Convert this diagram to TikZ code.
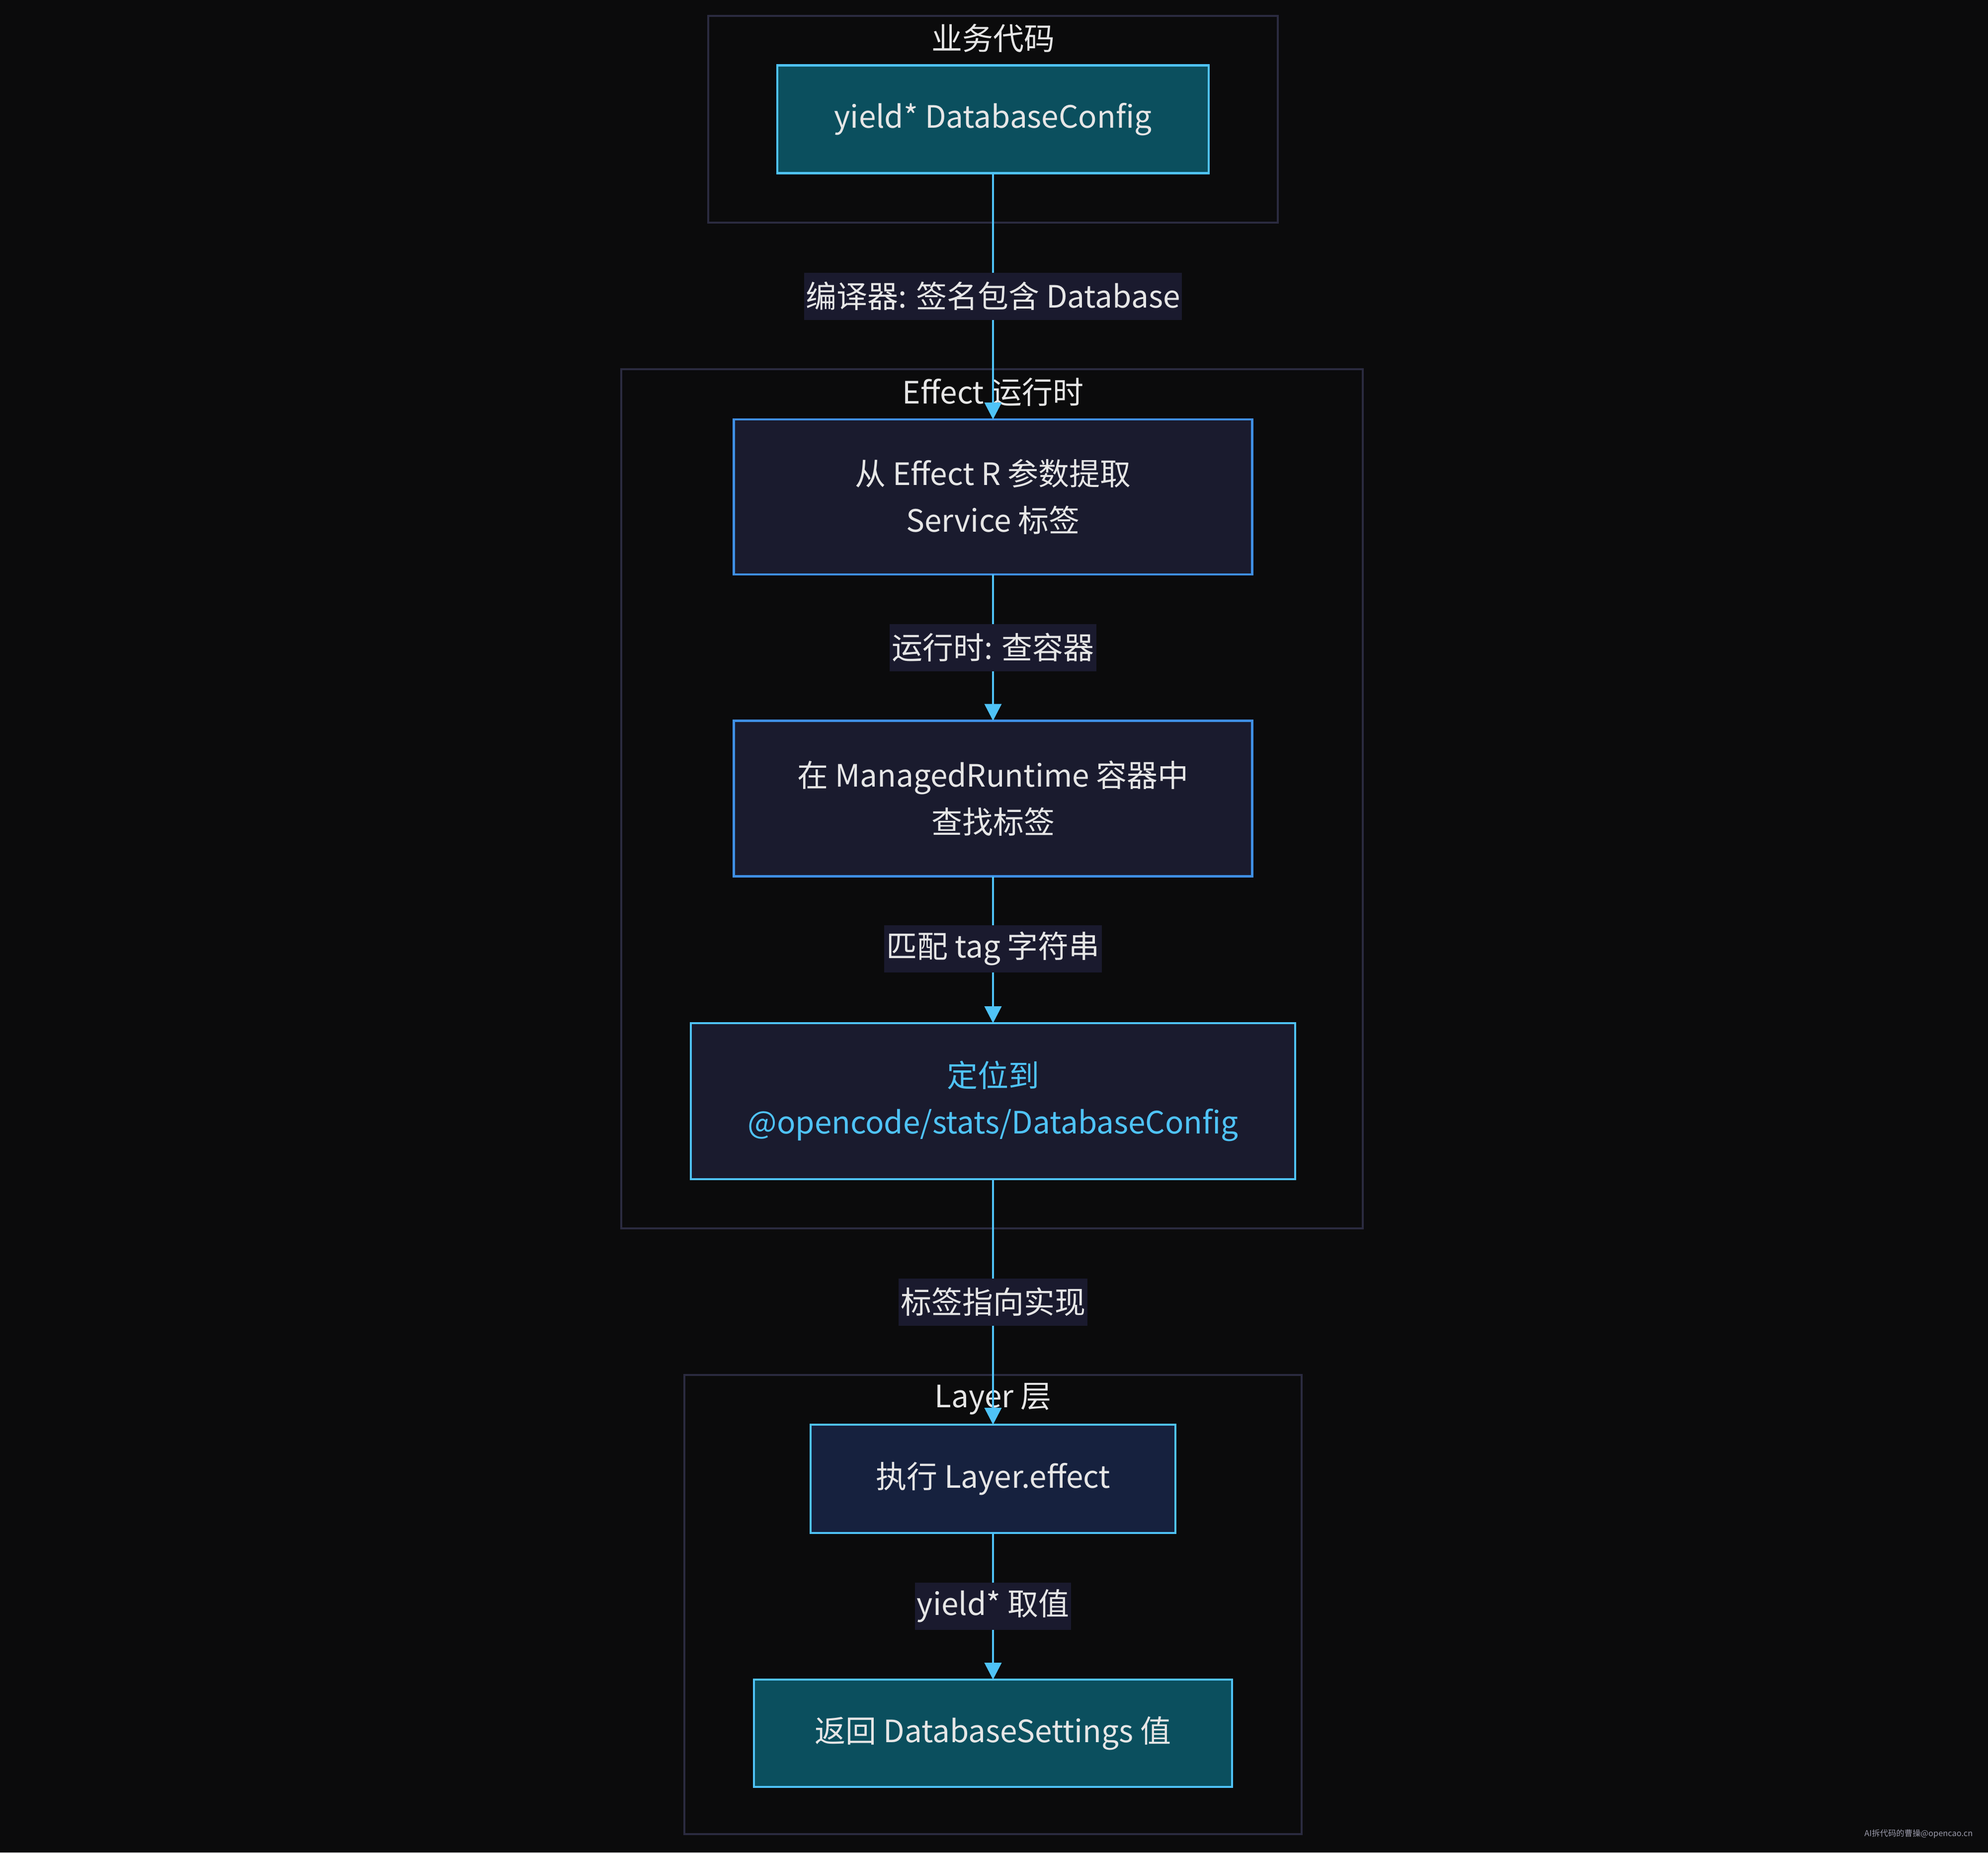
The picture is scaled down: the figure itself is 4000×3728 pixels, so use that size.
\documentclass[tikz,border=0pt]{standalone}
\usepackage{fontspec}
\setmainfont{Noto Sans CJK SC}
\usetikzlibrary{arrows.meta}
\definecolor{bgc}{HTML}{0B0B0C}
\definecolor{clusterc}{HTML}{2B2B40}
\definecolor{tealfill}{HTML}{0B4F5E}
\definecolor{navyfill}{HTML}{1A1B2E}
\definecolor{deepfill}{HTML}{16213E}
\definecolor{cyanline}{HTML}{4FC3F7}
\definecolor{blueline}{HTML}{3F8FE4}
\definecolor{labelfill}{HTML}{1A1A2E}
\definecolor{txt}{HTML}{E6E6E6}
\definecolor{wm}{HTML}{9A9AAA}
\tikzset{
  box/.style={rectangle, inner sep=0pt, outer sep=0pt, line width=1.1pt, align=center,
    text=txt, font=\fontsize{15.5}{23.5}\selectfont},
  tealbox/.style={box, fill=tealfill, draw=cyanline},
  navybox/.style={box, fill=navyfill, draw=blueline},
  hlbox/.style={box, fill=navyfill, draw=cyanline, text=cyanline},
  deepbox/.style={box, fill=deepfill, draw=cyanline},
  elabel/.style={rectangle, fill=labelfill, inner xsep=1pt, inner ysep=0pt, outer sep=0pt,
    minimum height=23.75pt, text=txt, font=\fontsize{15.5}{18}\selectfont},
  cluster/.style={draw=clusterc, line width=1pt},
  ctitle/.style={text=txt, inner sep=0pt, font=\fontsize{15.5}{18}\selectfont},
  edge/.style={draw=cyanline, line width=1pt},
  arr/.style={edge, -{Triangle[length=8.5pt, width=8.5pt]}}
}
\begin{document}
\begin{tikzpicture}[x=0.25pt, y=-0.25pt]
\fill[bgc] (0,0) rectangle (4000,3728);
\useasboundingbox (0,0) rectangle (4000,3728);

% clusters
\draw[cluster] (1425,32) rectangle (2571,448);
\draw[cluster] (1250,743) rectangle (2742,2472);
\draw[cluster] (1377,2767) rectangle (2619,3691);
\node[ctitle] (t1) at (1998,77) {业务代码};
\node[ctitle] (t2) at (1998,789) {Effect 运行时};
\node[ctitle] (t3) at (1998,2815) {Layer 层};

% nodes
\node[tealbox, minimum width=217pt, minimum height=54.25pt] (A) at (1998,240) {yield* DatabaseConfig};
\node[navybox, minimum width=260.75pt, minimum height=78pt] (B) at (1998,1000) {从 Effect R 参数提取\\Service 标签};
\node[navybox, minimum width=260.75pt, minimum height=78.25pt] (C) at (1998,1607) {在 ManagedRuntime 容器中\\查找标签};
\node[hlbox, minimum width=304pt, minimum height=78.5pt] (D) at (1998,2216) {定位到\\@opencode/stats/DatabaseConfig};
\node[deepbox, minimum width=183.5pt, minimum height=54.5pt] (E) at (1998,2976) {执行 Layer.effect};
\node[tealbox, minimum width=240.5pt, minimum height=54pt] (F) at (1998,3488) {返回 DatabaseSettings 值};

% edge labels
\node[elabel] (L1) at (1998,596) {编译器: 签名包含 Database};
\node[elabel] (L2) at (1998,1303) {运行时: 查容器};
\node[elabel] (L3) at (1998,1909) {匹配 tag 字符串};
\node[elabel] (L4) at (1998,2620) {标签指向实现};
\node[elabel] (L5) at (1998,3232) {yield* 取值};

% edges
\draw[edge] (A) -- (L1);
\draw[arr] (L1) -- (B);
\draw[edge] (B) -- (L2);
\draw[arr] (L2) -- (C);
\draw[edge] (C) -- (L3);
\draw[arr] (L3) -- (D);
\draw[edge] (D) -- (L4);
\draw[arr] (L4) -- (E);
\draw[edge] (E) -- (L5);
\draw[arr] (L5) -- (F);

% watermark
\node[text=wm, inner sep=0pt, anchor=east, font=\fontsize{4.1}{5}\selectfont] (wmark) at (3970,3690) {AI拆代码的曹操@opencao.cn};
\end{tikzpicture}
\end{document}
